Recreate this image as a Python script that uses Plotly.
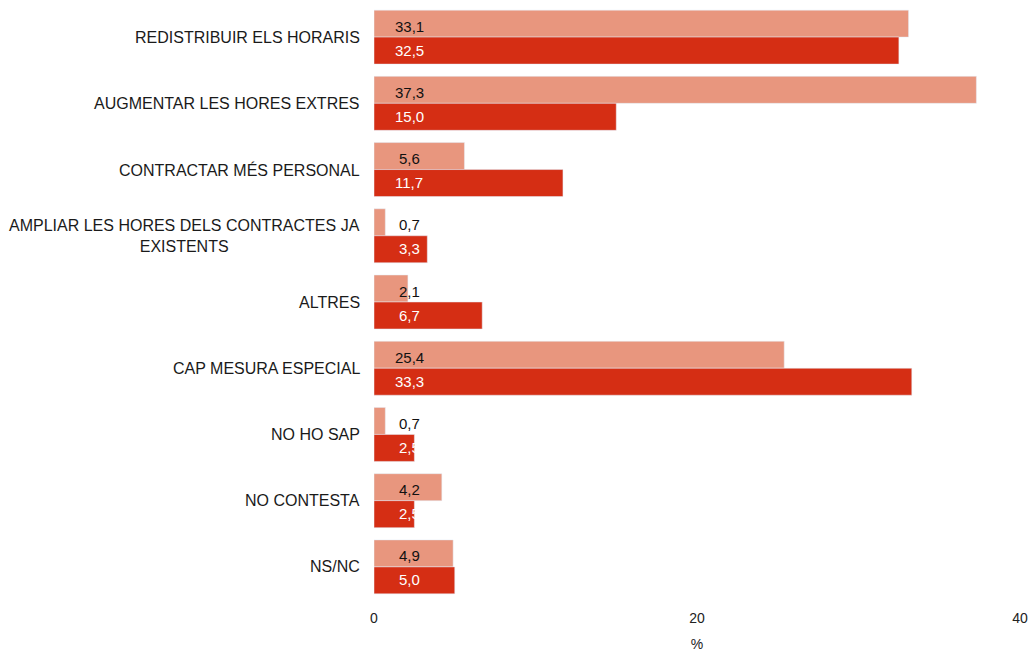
import plotly.graph_objects as go

categories = [
    "REDISTRIBUIR ELS HORARIS",
    "AUGMENTAR LES HORES EXTRES",
    "CONTRACTAR MÉS PERSONAL",
    "AMPLIAR LES HORES DELS CONTRACTES JA<br>EXISTENTS",
    "ALTRES",
    "CAP MESURA ESPECIAL",
    "NO HO SAP",
    "NO CONTESTA",
    "NS/NC",
]
series_a = [33.1, 37.3, 5.6, 0.7, 2.1, 25.4, 0.7, 4.2, 4.9]
series_b = [32.5, 15.0, 11.7, 3.3, 6.7, 33.3, 2.5, 2.5, 5.0]
x_ticks = [0, 20, 40]

LIGHT = "#E8967E"
DARK = "#D52E14"
FONT = "Liberation Sans, Arial, sans-serif"

fig = go.Figure()
fig.add_trace(go.Bar(y=categories, x=series_a, orientation="h", marker_color=LIGHT,
                     name="A", hoverinfo="x+y"))
fig.add_trace(go.Bar(y=categories, x=series_b, orientation="h", marker_color=DARK,
                     name="B", hoverinfo="x+y"))

def fmt(v):
    return f"{v:.1f}".replace(".", ",")

annotations = []
for c, va, vb in zip(categories, series_a, series_b):
    annotations.append(dict(x=0, y=c, xref="x", yref="y", text=fmt(va), showarrow=False,
                            xanchor="center", xshift=35, yshift=11,
                            font=dict(family=FONT, size=15, color="#111111")))
    annotations.append(dict(x=0, y=c, xref="x", yref="y", text=fmt(vb), showarrow=False,
                            xanchor="center", xshift=35, yshift=-13,
                            font=dict(family=FONT, size=15, color="#ffffff")))
    annotations.append(dict(x=0, y=c, xref="paper", yref="y", text=c, showarrow=False,
                            xanchor="right", xshift=-12, align="center",
                            font=dict(family=FONT, size=16, color="#1a1a1a")))

fig.update_layout(
    width=1033, height=652,
    margin=dict(l=374, r=13, t=4, b=52),
    barmode="group", bargap=0.185, bargroupgap=0,
    plot_bgcolor="white", paper_bgcolor="white",
    showlegend=False,
    font=dict(family=FONT, size=14, color="#222222"),
    annotations=annotations,
    xaxis=dict(range=[0, 40], tickvals=x_ticks, ticktext=[str(t) for t in x_ticks],
               showgrid=False, zeroline=False, showline=False, ticks="",
               ticklabelstandoff=8, automargin=False,
               title=dict(text="%", standoff=20, font=dict(size=14)),
               tickfont=dict(size=14)),
    yaxis=dict(autorange="reversed", showticklabels=False, showgrid=False,
               zeroline=False, showline=False, ticks="", automargin=False),
)

fig.write_html("out.html", config={"displayModeBar": False},
               post_script="document.body.style.margin='0px';")
